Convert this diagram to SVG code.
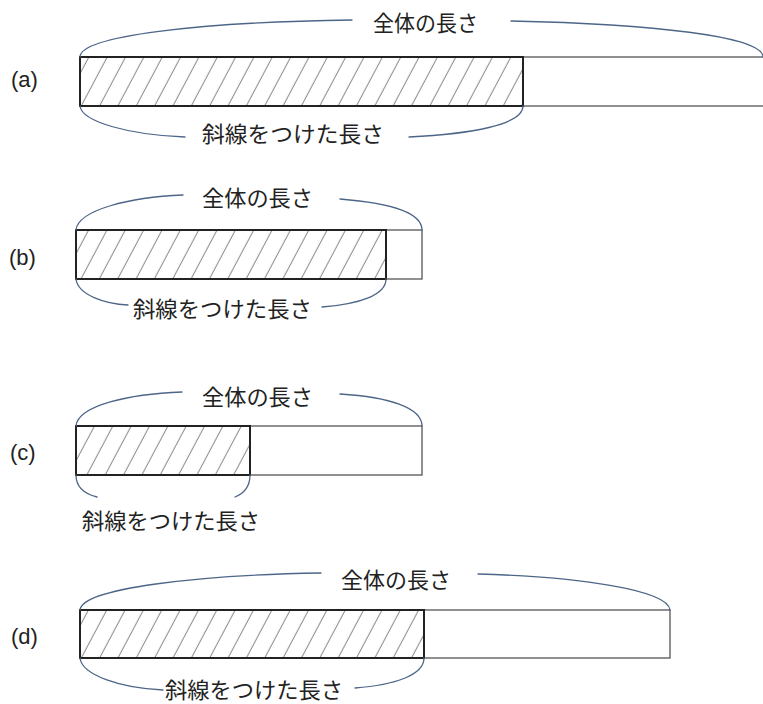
<svg xmlns="http://www.w3.org/2000/svg" width="763" height="704" viewBox="0 0 763 704">
<defs>
<pattern id="hatch" patternUnits="userSpaceOnUse" width="16.2" height="20" patternTransform="rotate(28)">
<line x1="8" y1="-5" x2="8" y2="25" stroke="#666" stroke-width="0.8"/>
</pattern>
<style>
.bar{fill:#fff;stroke:#555;stroke-width:1.3}
.hat{fill:url(#hatch);stroke:#222;stroke-width:2}
.arc{fill:none;stroke:#4d6688;stroke-width:1.3;stroke-linecap:round}
.jp{font-family:"Noto Sans CJK JP","Noto Sans CJK SC",sans-serif;font-size:22px;fill:#222}
.lbl{font-family:"Liberation Sans",Arial,sans-serif;font-size:22px;fill:#222}
</style>
</defs>
<rect width="763" height="704" fill="#fff"/>

<g id="panel-a">
<text class="lbl" x="11" y="87">(a)</text>
<rect class="bar" x="80" y="57" width="690" height="49"/>
<rect class="hat" x="80" y="57" width="443" height="49"/>
<text class="jp" x="373" y="31" textLength="105" lengthAdjust="spacingAndGlyphs">全体の長さ</text>
<text class="jp" x="202" y="142" textLength="182" lengthAdjust="spacingAndGlyphs">斜線をつけた長さ</text>
</g>

<g id="panel-b">
<text class="lbl" x="9" y="265">(b)</text>
<rect class="bar" x="76" y="230" width="346" height="49"/>
<rect class="hat" x="76" y="230" width="310" height="49"/>
<text class="jp" x="202" y="206" textLength="111" lengthAdjust="spacingAndGlyphs">全体の長さ</text>
<text class="jp" x="133" y="317" textLength="179" lengthAdjust="spacingAndGlyphs">斜線をつけた長さ</text>
</g>

<g id="panel-c">
<text class="lbl" x="10" y="460">(c)</text>
<rect class="bar" x="76" y="426" width="346" height="49"/>
<rect class="hat" x="76" y="426" width="174" height="49"/>
<text class="jp" x="202" y="405" textLength="111" lengthAdjust="spacingAndGlyphs">全体の長さ</text>
<text class="jp" x="82" y="529" textLength="178" lengthAdjust="spacingAndGlyphs">斜線をつけた長さ</text>
</g>

<g id="panel-d">
<text class="lbl" x="11" y="644">(d)</text>
<rect class="bar" x="80" y="610" width="590" height="48"/>
<rect class="hat" x="80" y="610" width="344" height="48"/>
<text class="jp" x="341" y="588" textLength="110" lengthAdjust="spacingAndGlyphs">全体の長さ</text>
<text class="jp" x="165" y="698" textLength="178" lengthAdjust="spacingAndGlyphs">斜線をつけた長さ</text>
</g>

<g id="connectors">
<path class="arc" d="M80,57 C80,36 200,22 352,20"/>
<path class="arc" d="M511,21 C650,24 763,36 763,57"/>
<path class="arc" d="M80,106 C82,122 130,135 185,137"/>
<path class="arc" d="M409,137 C470,134 523,125 523,106"/>

<path class="arc" d="M76,230 C78,210 130,197 183,195"/>
<path class="arc" d="M340,199 C390,203 422,212 422,230"/>
<path class="arc" d="M76,279 C78,295 105,304 128,305"/>
<path class="arc" d="M322,307 C360,304 386,295 386,279"/>

<path class="arc" d="M76,426 C78,405 130,394 182,392"/>
<path class="arc" d="M340,394 C390,397 422,408 422,426"/>
<path class="arc" d="M76,475 C76,487 85,494 97,497"/>
<path class="arc" d="M235,497 C245,493 250,485 250,475"/>

<path class="arc" d="M80,610 C82,588 200,575 321,573"/>
<path class="arc" d="M478,574 C580,577 668,590 670,610"/>
<path class="arc" d="M80,658 C82,675 120,688 163,690"/>
<path class="arc" d="M355,688 C395,685 424,675 424,658"/>
</g>
</svg>
